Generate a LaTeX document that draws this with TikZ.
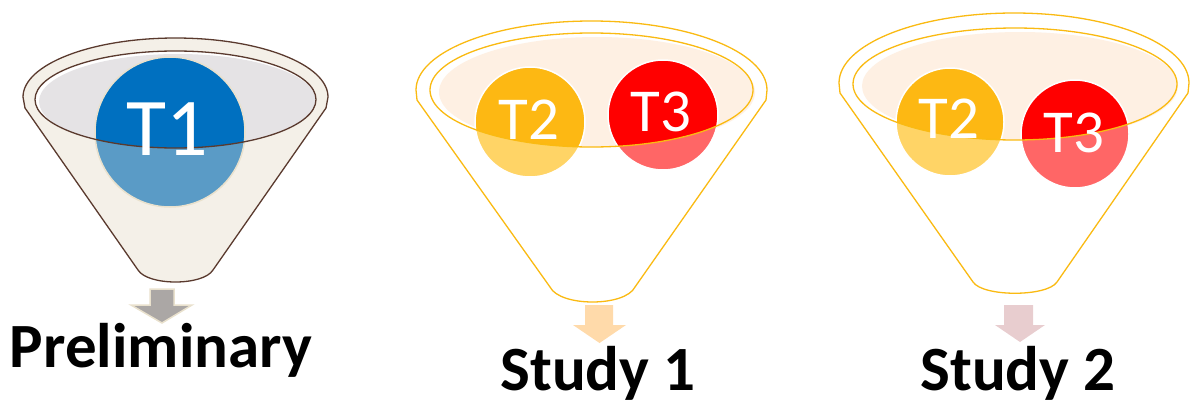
\documentclass[tikz,border=0pt]{standalone}
\usepackage{fontspec}
\setmainfont{Carlito}
\definecolor{brownline}{HTML}{5A3A2E}
\definecolor{creamfill}{HTML}{F4F0E8}
\definecolor{greyfill}{HTML}{E5E3E5}
\definecolor{creamring}{HTML}{E9E1CD}
\definecolor{goldline}{HTML}{FABA12}
\definecolor{peachfill}{HTML}{FEF0E3}
\definecolor{blueA}{HTML}{0070C0}
\definecolor{blueB}{HTML}{5A9BC6}
\definecolor{amberA}{HTML}{FDB813}
\definecolor{amberB}{HTML}{FFD466}
\definecolor{redA}{HTML}{FF0000}
\definecolor{redB}{HTML}{FF6666}
\definecolor{arrowgrey}{HTML}{ABA7A5}
\definecolor{arrowpeach}{HTML}{FFDAAA}
\definecolor{arrowpink}{HTML}{E8CDCF}
\tikzset{
  ttext/.style={text=white, anchor=base, inner sep=0pt, font=\fontsize{61}{61}\selectfont},
  bigttext/.style={ttext, font=\fontsize{82}{82}\selectfont},
  caption/.style={text=black, anchor=base, inner sep=0pt, font=\bfseries\fontsize{63}{63}\selectfont},
  brownrim/.style={draw=brownline, line width=1.3pt},
  goldrim/.style={draw=goldline, line width=1.3pt},
}
\begin{document}
\begin{tikzpicture}[x=1pt,y=-1pt]
\useasboundingbox (0,0) rectangle (1190,402);

% ---------- Preliminary funnel ----------
\filldraw[fill=creamfill, brownrim]
  (25,108) -- (23,97) arc[start angle=180, end angle=0, x radius=152.5pt, y radius=59pt]
  -- (326,108) -- (213,270) .. controls (203,286) and (148,286) .. (138,270) -- cycle;
\fill[white] (175.5,99.5) ellipse[x radius=140.5pt, y radius=48.5pt];
\begin{scope}
  \clip (175.5,99.5) ellipse[x radius=140.5pt, y radius=48.5pt];
  \fill[greyfill] (178,101.5) ellipse[x radius=139pt, y radius=47.5pt];
\end{scope}
\fill[blueB] (170,132) circle[radius=75pt];
\begin{scope}
  \clip (175.5,99.5) ellipse[x radius=140.5pt, y radius=48.5pt];
  \fill[blueA] (170,132) circle[radius=75pt];
\end{scope}
\draw[creamring, line width=1.5pt] (170,132) circle[radius=75pt];
\draw[brownrim] (175.5,99.5) ellipse[x radius=140.5pt, y radius=48.5pt];
\node[bigttext] (t1) at (167.5,155) {T1};

\filldraw[fill=arrowgrey, draw=creamring, line width=1.5pt]
  (150,289) -- (174,289) -- (174,305) -- (192,305) -- (162,323) -- (131,305) -- (150,305) -- cycle;
\node[caption] (prelim) at (161,367) {Preliminary};

% ---------- Study 1 funnel ----------
\fill[white] (417,100) -- (416,90) arc[start angle=180, end angle=0, x radius=175.5pt, y radius=69pt]
  -- (766,100) -- (635,287) .. controls (625,307) and (560,307) .. (550,287) -- cycle;
\begin{scope}
  \clip (591.5,90) ellipse[x radius=170pt, y radius=62pt];
  \fill[peachfill] (597,92) ellipse[x radius=158pt, y radius=55pt];
\end{scope}
\fill[amberB] (530,122) circle[radius=55pt];
\fill[redB] (663,115) circle[radius=55pt];
\begin{scope}
  \clip (591.5,90) ellipse[x radius=161.5pt, y radius=57pt];
  \fill[amberA] (530,122) circle[radius=55pt];
  \fill[redA] (663,115) circle[radius=55pt];
\end{scope}
\draw[white, line width=1.5pt] (530,122) circle[radius=55pt] (663,115) circle[radius=55pt];
\draw[goldrim]
  (417,100) -- (416,90) arc[start angle=180, end angle=0, x radius=175.5pt, y radius=69pt]
  -- (766,100) -- (635,287) .. controls (625,307) and (560,307) .. (550,287) -- cycle;
\draw[goldrim] (591.5,90) ellipse[x radius=161.5pt, y radius=57pt];
\node[ttext] (s1t2) at (529,139) {T2};
\node[ttext] (s1t3) at (661,131) {T3};

\fill[arrowpeach]
  (585,305) -- (613,305) -- (613,325) -- (626,325) -- (599.5,343) -- (573,325) -- (585,325) -- cycle;
\node[caption] (study1) at (598,390) {Study 1};

% ---------- Study 2 funnel ----------
\fill[white] (840,93) -- (839,83) arc[start angle=180, end angle=0, x radius=175pt, y radius=70pt]
  -- (1188,93) -- (1057,282) .. controls (1047,297) and (983,297) .. (973,282) -- cycle;
\begin{scope}
  \clip (1015,84) ellipse[x radius=170pt, y radius=62pt];
  \fill[peachfill] (1020,86) ellipse[x radius=158pt, y radius=54pt];
\end{scope}
\fill[amberB] (950,122) circle[radius=54pt];
\fill[redB] (1075,134) circle[radius=54pt];
\begin{scope}
  \clip (1015,84) ellipse[x radius=162pt, y radius=56pt];
  \fill[amberA] (950,122) circle[radius=54pt];
  \fill[redA] (1075,134) circle[radius=54pt];
\end{scope}
\draw[white, line width=1.5pt] (950,122) circle[radius=54pt] (1075,134) circle[radius=54pt];
\draw[goldrim]
  (840,93) -- (839,83) arc[start angle=180, end angle=0, x radius=175pt, y radius=70pt]
  -- (1188,93) -- (1057,282) .. controls (1047,297) and (983,297) .. (973,282) -- cycle;
\draw[goldrim] (1015,84) ellipse[x radius=162pt, y radius=56pt];
\node[ttext] (s2t2) at (949,138) {T2};
\node[ttext] (s2t3) at (1074,152) {T3};

\fill[arrowpink]
  (1004,305) -- (1033,305) -- (1033,325) -- (1045,325) -- (1020,342) -- (995,325) -- (1004,325) -- cycle;
\node[caption] (study2) at (1018,390) {Study 2};
\end{tikzpicture}
\end{document}
